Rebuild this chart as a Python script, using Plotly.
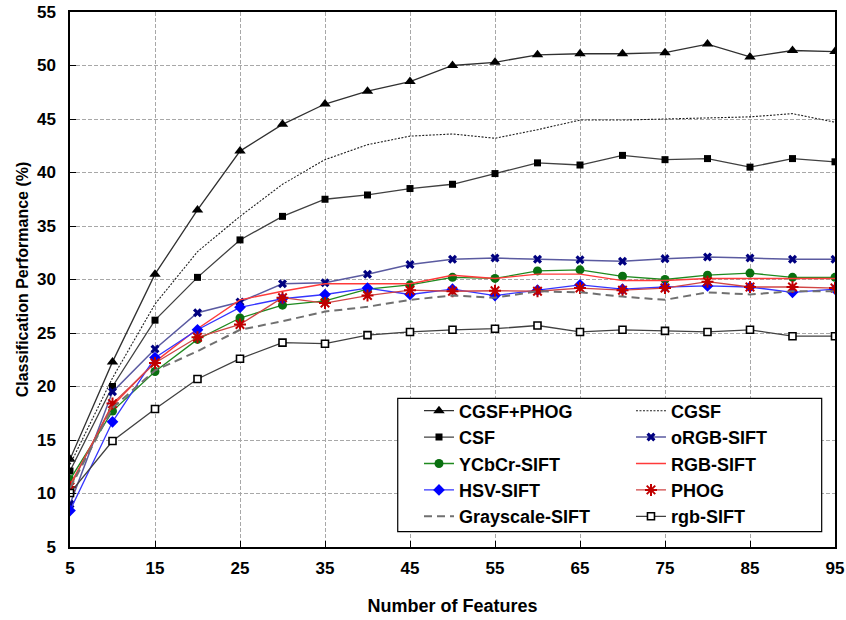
import plotly.graph_objects as go

features = [5, 10, 15, 20, 25, 30, 35, 40, 45, 50, 55, 60, 65, 70, 75, 80, 85, 90, 95]

cgsf_phog = [13.2, 22.3, 30.5, 36.5, 42.0, 44.5, 46.4, 47.6, 48.5, 50.0, 50.3, 51.0, 51.1, 51.1, 51.2, 52.0, 50.8, 51.4, 51.3]
cgsf = [12.7, 20.8, 27.7, 32.6, 35.9, 38.9, 41.2, 42.6, 43.4, 43.6, 43.2, 44.0, 44.9, 44.9, 45.0, 45.1, 45.2, 45.5, 44.7]
csf = [12.1, 20.0, 26.2, 30.2, 33.7, 35.9, 37.5, 37.9, 38.5, 38.9, 39.9, 40.9, 40.7, 41.6, 41.2, 41.3, 40.5, 41.3, 41.0]
orgb_sift = [9.0, 19.5, 23.5, 26.9, 27.9, 29.6, 29.7, 30.5, 31.4, 31.9, 32.0, 31.9, 31.85, 31.7, 31.95, 32.1, 32.0, 31.9, 31.9]
ycbcr_sift = [11.3, 17.7, 21.4, 24.4, 26.4, 27.6, 28.0, 29.1, 29.5, 30.2, 30.1, 30.8, 30.9, 30.3, 30.0, 30.4, 30.6, 30.2, 30.2]
rgb_sift = [10.8, 18.2, 22.3, 25.4, 28.1, 28.9, 29.6, 29.6, 29.6, 30.4, 30.1, 30.5, 30.5, 29.9, 29.9, 30.1, 30.1, 30.1, 30.1]
hsv_sift = [8.4, 16.7, 22.7, 25.3, 27.4, 28.2, 28.6, 29.2, 28.6, 29.1, 28.5, 29.0, 29.5, 29.1, 29.3, 29.4, 29.3, 28.8, 29.1]
phog = [10.6, 18.4, 22.2, 24.6, 25.8, 28.3, 27.8, 28.5, 29.0, 28.9, 28.95, 28.9, 29.2, 29.0, 29.2, 29.8, 29.3, 29.3, 29.2]
grayscale_sift = [10.5, 18.0, 21.5, 23.3, 25.3, 26.1, 27.0, 27.45, 28.1, 28.5, 28.3, 28.9, 28.8, 28.4, 28.1, 28.8, 28.6, 28.9, 28.9]
rgbn_sift = [10.05, 14.9, 17.9, 20.7, 22.6, 24.1, 24.0, 24.8, 25.1, 25.3, 25.4, 25.7, 25.1, 25.3, 25.2, 25.1, 25.3, 24.7, 24.7]

FONT = "Liberation Sans, Arial, sans-serif"

series = [
    # name, values, line, marker, legend
    ("CGSF+PHOG", cgsf_phog, dict(color="#303030", width=1.3),
     dict(symbol="triangle-up", size=10, color="black"), "legend"),
    ("CGSF", cgsf, dict(color="#202020", width=1.1, dash="2px,1.5px"), None, "legend2"),
    ("CSF", csf, dict(color="#404040", width=1.3),
     dict(symbol="square", size=7, color="black"), "legend"),
    ("oRGB-SIFT", orgb_sift, dict(color="#5a5aa0", width=1.5),
     dict(symbol="x", size=8, color="#000080"), "legend2"),
    ("YCbCr-SIFT", ycbcr_sift, dict(color="#1f8a1f", width=1.3),
     dict(symbol="circle", size=9, color="#0a7010"), "legend"),
    ("RGB-SIFT", rgb_sift, dict(color="#ff3a3a", width=1.4), None, "legend2"),
    ("HSV-SIFT", hsv_sift, dict(color="#3535ff", width=1.3),
     dict(symbol="diamond", size=9, color="#0000ff"), "legend"),
    ("PHOG", phog, dict(color="#d04545", width=1.3),
     dict(symbol="asterisk-open", size=10, color="#c00000", line=dict(color="#c00000", width=2)), "legend2"),
    ("Grayscale-SIFT", grayscale_sift, dict(color="#707070", width=2, dash="8px,5px"), None, "legend"),
    ("rgb-SIFT", rgbn_sift, dict(color="#404040", width=1.3),
     dict(symbol="square", size=7, color="white", line=dict(color="black", width=1.6)), "legend2"),
]

fig = go.Figure()
for name, vals, line, marker, leg in series:
    kw = dict(x=features, y=vals, name=name, line=line, legend=leg)
    if marker is None:
        kw["mode"] = "lines"
    else:
        kw["mode"] = "lines+markers"
        kw["marker"] = marker
    fig.add_trace(go.Scatter(**kw))

axis_common = dict(
    showline=True, linecolor="black", linewidth=1.5, mirror=True,
    showgrid=True, gridcolor="#a8a8a8", gridwidth=1, griddash="4px,2px",
    ticks="inside", ticklen=6, tickcolor="black", zeroline=False,
    automargin=False,
    tickfont=dict(family=FONT, size=17, color="black", weight="bold"),
)

fig.update_xaxes(
    range=[5, 95], tick0=5, dtick=10, ticklabelstandoff=5,
    title=dict(text="Number of Features", standoff=22,
               font=dict(family=FONT, size=18, color="black", weight="bold")),
    **axis_common,
)
fig.update_yaxes(
    range=[5, 55], tick0=5, dtick=5, ticklabelstandoff=9,
    title=dict(text="Classification Performance (%)", standoff=4,
               font=dict(family=FONT, size=16, color="black", weight="bold")),
    **axis_common,
)

legend_common = dict(
    bgcolor="rgba(0,0,0,0)", borderwidth=0, orientation="v",
    font=dict(family=FONT, size=18, color="black", weight="bold"),
    xanchor="left", yanchor="top", y=0.2888, tracegroupgap=0,
)

fig.update_layout(
    width=846, height=620,
    margin=dict(l=70, r=11, t=12, b=73, autoexpand=False),
    paper_bgcolor="white", plot_bgcolor="white",
    showlegend=True,
    legend=dict(x=0.4562, **legend_common),
    legend2=dict(x=0.7333, **legend_common),
    shapes=[dict(type="rect", xref="paper", yref="paper",
                 x0=0.4284, x1=0.9826, y0=0.0286, y1=0.2779,
                 fillcolor="white", line=dict(color="black", width=1.2),
                 layer="above")],
)

# remove the default 8px page margin so the figure fills the window exactly
fig.write_html("out.html", config={"displayModeBar": False},
               post_script="document.body.style.margin='0';")
